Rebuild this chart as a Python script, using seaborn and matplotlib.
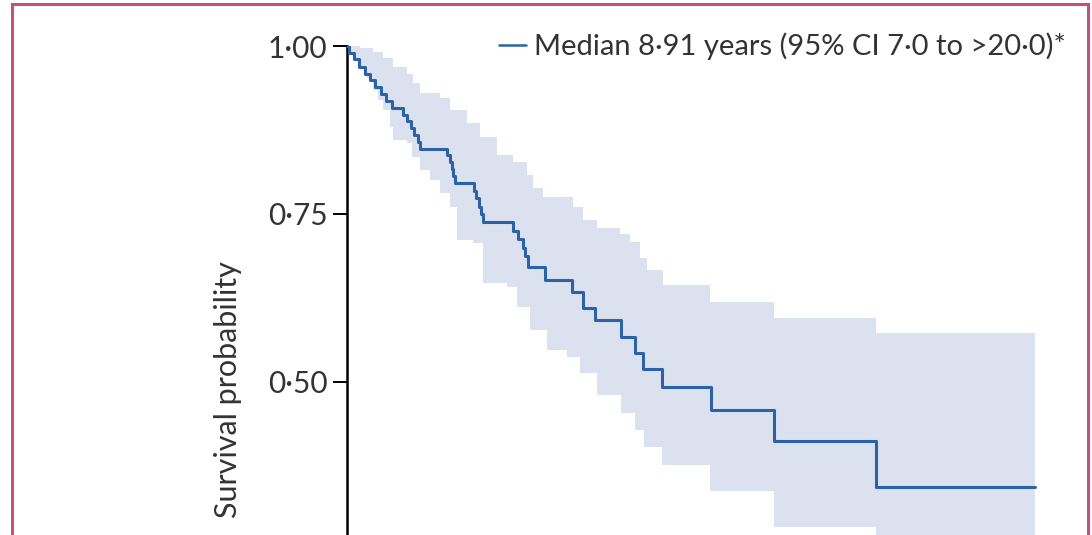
import matplotlib
matplotlib.use("Agg")
import matplotlib.pyplot as plt
import seaborn as sns
import pandas as pd
from matplotlib.patches import Rectangle
from matplotlib.lines import Line2D

# ---- data (years, survival probability) ----
km_time = [0, 0.06, 0.2, 0.35, 0.5, 0.65, 0.8, 0.95, 1.1, 1.27,
           1.58, 1.70, 1.80, 1.90, 2.00, 2.07,
           2.83, 2.90, 2.96, 3.01, 3.06,
           3.59, 3.66, 3.72, 3.80, 3.85,
           4.70, 4.84, 4.98, 5.04, 5.12,
           5.60, 6.36, 6.68, 7.02, 7.75, 8.15, 8.37, 8.91,
           10.30, 12.08, 14.96, 19.46]
km_surv = [1.0, 0.990, 0.980, 0.969, 0.959, 0.949, 0.939, 0.929, 0.918, 0.908,
           0.898, 0.888, 0.878, 0.867, 0.857, 0.847,
           0.837, 0.827, 0.817, 0.806, 0.796,
           0.784, 0.773, 0.761, 0.750, 0.738,
           0.725, 0.712, 0.700, 0.688, 0.671,
           0.652, 0.634, 0.610, 0.592, 0.567, 0.543, 0.519, 0.493,
           0.458, 0.412, 0.344, 0.344]

ci_upper_time = [0, 0.37, 0.74, 1.02, 1.30, 1.70, 1.87, 2.07, 2.63, 2.91,
                 3.39, 3.76, 4.24, 4.70, 5.09, 5.26, 5.54, 6.39, 6.68, 7.07,
                 7.72, 8.01, 8.29, 8.49, 8.94, 10.27, 12.08, 14.96, 19.46]
ci_upper = [1.0, 0.997, 0.991, 0.982, 0.969, 0.958, 0.945, 0.930, 0.923, 0.905,
            0.885, 0.865, 0.838, 0.827, 0.808, 0.789, 0.775, 0.760, 0.741, 0.729,
            0.720, 0.708, 0.685, 0.667, 0.644, 0.619, 0.595, 0.573, 0.573]

ci_lower_time = [0, 0.08, 0.23, 0.37, 0.57, 0.74, 0.88, 1.02, 1.22, 1.30,
                 1.70, 1.84, 2.07, 2.35, 2.63, 2.91, 3.11, 3.56, 3.85, 4.53,
                 4.81, 5.18, 5.66, 6.22, 6.59, 7.07, 7.75, 8.15, 8.40, 8.91,
                 10.27, 12.08, 14.96, 19.46]
ci_lower = [1.0, 0.991, 0.982, 0.969, 0.952, 0.935, 0.920, 0.905, 0.879, 0.860,
            0.856, 0.835, 0.815, 0.801, 0.781, 0.760, 0.711, 0.707, 0.647, 0.641,
            0.612, 0.577, 0.548, 0.537, 0.513, 0.481, 0.454, 0.429, 0.403, 0.376,
            0.338, 0.284, 0.235, 0.235]

y_ticks = [0.50, 0.75, 1.00]
y_ticklabels = ["0·50", "0·75", "1·00"]
legend_label = "Median 8·91 years (95% CI 7·0 to >20·0)*"
y_label = "Survival probability"

line_color = "#2c63a6"
band_color = "#dce1ef"
text_color = "#333333"

sns.set_style("white")
plt.rcParams["font.family"] = ["Lato", "DejaVu Sans"]

W, H = 1092, 535
fig = plt.figure(figsize=(W / 100, H / 100), dpi=100)
ax_left = 347 / W
ax_top = 1 - 46 / H
ax_right = 1054 / W
ax = fig.add_axes([ax_left, 0, ax_right - ax_left, ax_top])

# merge band onto a common step grid
band_t = sorted(set(ci_upper_time) | set(ci_lower_time))
def step_val(ts, vs, t):
    v = vs[0]
    for ti, vi in zip(ts, vs):
        if ti <= t:
            v = vi
    return v
band_u = [step_val(ci_upper_time, ci_upper, t) for t in band_t]
band_l = [step_val(ci_lower_time, ci_lower, t) for t in band_t]
ax.fill_between(band_t, band_l, band_u, step="post", color=band_color, lw=0, zorder=1)

df = pd.DataFrame({"time": km_time, "surv": km_surv})
sns.lineplot(data=df, x="time", y="surv", ax=ax, estimator=None, sort=False,
             drawstyle="steps-post", color=line_color, lw=2.2, zorder=3)

ax.set_xlim(0, 20)
ax.set_ylim(0.272, 1.0)
ax.set_yticks(y_ticks)
ax.set_yticklabels(y_ticklabels)
ax.set_xticks([])
ax.set_xlabel("")
ax.set_ylabel(y_label, fontsize=22, color=text_color)
ax.yaxis.set_label_coords((242 - 347) / 707, (535 - 390) / 489)
for s in ["top", "right", "bottom"]:
    ax.spines[s].set_visible(False)
ax.spines["left"].set_color("black")
ax.spines["left"].set_linewidth(1.8)
ax.tick_params(axis="y", which="major", direction="out", length=10, width=1.4,
               color="black", pad=4, labelsize=21.5, labelcolor=text_color, left=True)
ax.patch.set_alpha(0)

handle = Line2D([], [], color=line_color, lw=1.8)
leg = ax.legend([handle], [legend_label], loc="center right",
                bbox_to_anchor=(1066 / W, 1 - 46 / H), bbox_transform=fig.transFigure,
                frameon=False, fontsize=21, handlelength=0.9, handletextpad=0.3,
                borderaxespad=0, borderpad=0)
for t in leg.get_texts():
    t.set_color(text_color)

fig.add_artist(Rectangle((12 / W, -0.05), (1088 - 12) / W, 1.05 - 4 / H,
                         transform=fig.transFigure, fill=False,
                         edgecolor="#c4517c", lw=2.2, zorder=10))

fig.savefig("out.png", dpi=100)
